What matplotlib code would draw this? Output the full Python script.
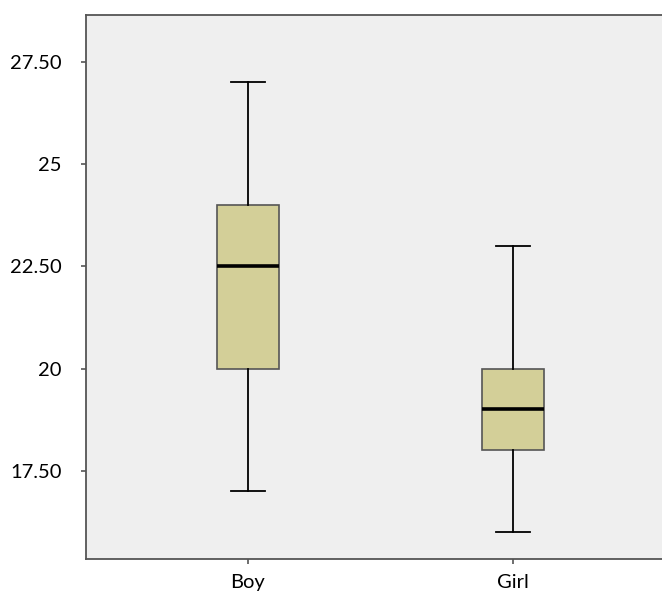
import matplotlib
matplotlib.use("Agg")
import matplotlib.pyplot as plt

categories = ["Boy", "Girl"]
whislo = [17.0, 16.0]
q1 = [20.0, 18.0]
med = [22.5, 19.0]
q3 = [24.0, 20.0]
whishi = [27.0, 23.0]
yticks = [17.5, 20, 22.5, 25, 27.5]
yticklabels = ["17.50", "20", "22.50", "25", "27.50"]

plt.rcParams['font.family'] = ['Lato', 'DejaVu Sans']

W, H = 662, 593
fig = plt.figure(figsize=(W / 100, H / 100), dpi=100)
left, right, top, bottom = 86, 673, 15, 559
ax = fig.add_axes([left / W, 1 - bottom / H, (right - left) / W, (bottom - top) / H])
ax.set_facecolor("#EFEFEF")

stats = []
for i, c in enumerate(categories):
    stats.append(dict(label=c, whislo=whislo[i], q1=q1[i], med=med[i], q3=q3[i], whishi=whishi[i], fliers=[]))

ax.bxp(stats, positions=[1, 2], widths=0.235, showfliers=False, patch_artist=True,
       boxprops=dict(facecolor="#D3CF98", edgecolor="#555555", linewidth=1.2),
       medianprops=dict(color="black", linewidth=2.6, solid_capstyle="butt"),
       whiskerprops=dict(color="black", linewidth=1.3),
       capprops=dict(color="black", linewidth=1.3),
       capwidths=0.125)

ax.set_xlim(1 - 162 / 265, 1 - 162 / 265 + (right - left) / 265)
ax.set_ylim(15.34, 28.65)
ax.set_yticks(yticks)
ax.set_yticklabels(yticklabels, fontsize=14.5)
ax.set_xticks([1, 2])
ax.set_xticklabels(categories, fontsize=14.5)
ax.tick_params(axis='y', direction='out', length=3.5, width=1.2, color="#555555", pad=14)
ax.tick_params(axis='x', direction='out', length=3.5, width=1.2, color="#555555", pad=7)
for s in ["left", "top", "bottom"]:
    ax.spines[s].set_color("#555555")
    ax.spines[s].set_linewidth(1.3)
ax.spines["right"].set_visible(False)

fig.savefig("out.png", dpi=100)
